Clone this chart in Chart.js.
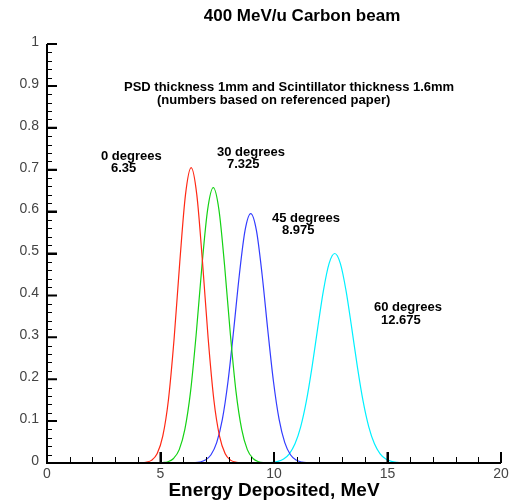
<!DOCTYPE html>
<html>
<head>
<meta charset="utf-8">
<script src="https://cdn.jsdelivr.net/npm/chart.js@4/dist/chart.umd.min.js"></script>
<style>
  html, body { margin: 0; padding: 0; background: #fff; }
  #wrap { width: 519px; height: 503px; }
</style>
</head>
<body>
<div id="wrap"><canvas id="energyChart" width="519" height="503"></canvas></div>
<script>
// 0 degrees (peak 6.35)
const deg0X = [4.10, 4.35, 4.60, 4.85, 5.10, 5.35, 5.60, 5.85, 6.10, 6.35, 6.60, 6.85, 7.10, 7.35, 7.60, 7.85, 8.10, 8.35, 8.60];
const deg0Y = [0.0003, 0.0015, 0.0063, 0.022, 0.064, 0.151, 0.297, 0.480, 0.640, 0.705, 0.640, 0.480, 0.297, 0.151, 0.064, 0.022, 0.0063, 0.0015, 0.0003];

// 30 degrees (peak 7.325)
const deg30X = [5.075, 5.325, 5.575, 5.825, 6.075, 6.325, 6.575, 6.825, 7.075, 7.325, 7.575, 7.825, 8.075, 8.325, 8.575, 8.825, 9.075, 9.325, 9.575, 9.70];
const deg30Y = [0.0007, 0.0030, 0.0107, 0.032, 0.081, 0.171, 0.309, 0.470, 0.604, 0.657, 0.604, 0.470, 0.309, 0.171, 0.081, 0.032, 0.0107, 0.0030, 0.0007, 0.0003];

// 45 degrees (peak 8.975)
const deg45X = [6.35, 6.475, 6.725, 6.975, 7.225, 7.475, 7.725, 7.975, 8.225, 8.475, 8.725, 8.975, 9.225, 9.475, 9.725, 9.975, 10.225, 10.475, 10.725, 10.975, 11.225, 11.475, 11.60];
const deg45Y = [0.0003, 0.0006, 0.0021, 0.0069, 0.0196, 0.0485, 0.104, 0.195, 0.318, 0.450, 0.555, 0.595, 0.555, 0.450, 0.318, 0.195, 0.104, 0.0485, 0.0196, 0.0069, 0.0021, 0.0006, 0.0003];

// 60 degrees (peak 12.675)
const deg60X = [9.675, 9.925, 10.175, 10.425, 10.675, 10.925, 11.175, 11.425, 11.675, 11.925, 12.175, 12.425, 12.675, 12.925, 13.175, 13.425, 13.675, 13.925, 14.175, 14.425, 14.675, 14.925, 15.175, 15.425, 15.675, 15.80];
const deg60Y = [0.0004, 0.0014, 0.0038, 0.0096, 0.022, 0.0457, 0.0862, 0.1475, 0.229, 0.322, 0.411, 0.476, 0.500, 0.476, 0.411, 0.322, 0.229, 0.1475, 0.0862, 0.0457, 0.022, 0.0096, 0.0038, 0.0014, 0.0004, 0.0002];

// 刻度
const xTicks = [0, 5, 10, 15, 20];
const yTicks = [0, 0.1, 0.2, 0.3, 0.4, 0.5, 0.6, 0.7, 0.8, 0.9, 1];
const xMinorStep = 1;
const yMinorStep = 0.02;

const toPoints = (xs, ys) => xs.map((x, i) => ({ x: x, y: ys[i] }));

const FONT = '"Liberation Sans", Arial, sans-serif';

// 坐标轴、刻度和文字
const axesPlugin = {
    id: 'axesPlugin',
    afterDraw(chart) {
        const ctx = chart.ctx;
        const xs = chart.scales.x;
        const ys = chart.scales.y;
        const left = xs.getPixelForValue(0);
        const right = xs.getPixelForValue(20);
        const bottom = ys.getPixelForValue(0);
        const top = ys.getPixelForValue(1);

        ctx.save();
        ctx.strokeStyle = '#000';
        ctx.lineWidth = 2;
        ctx.beginPath();
        ctx.moveTo(left, top);
        ctx.lineTo(left, bottom);
        ctx.lineTo(right, bottom);
        ctx.stroke();

        // minor + major ticks, pointing inwards
        ctx.lineWidth = 1;
        ctx.beginPath();
        for (let v = 0; v <= 20.001; v += xMinorStep) {
            const px = Math.round(xs.getPixelForValue(v)) + 0.5;
            const len = (Math.round(v) % 5 === 0) ? 11 : 6;
            ctx.moveTo(px, bottom);
            ctx.lineTo(px, bottom - len);
        }
        for (let i = 0; i <= 50; i++) {
            const v = i * yMinorStep;
            const py = Math.round(ys.getPixelForValue(v)) + 0.5;
            const len = (i % 5 === 0) ? 10 : 5;
            ctx.moveTo(left, py);
            ctx.lineTo(left + len, py);
        }
        ctx.stroke();
        ctx.lineWidth = 2;
        ctx.beginPath();
        xTicks.forEach(v => {
            const px = xs.getPixelForValue(v);
            ctx.moveTo(px, bottom);
            ctx.lineTo(px, bottom - 11);
        });
        yTicks.forEach(v => {
            const py = ys.getPixelForValue(v);
            ctx.moveTo(left, py);
            ctx.lineTo(left + 10, py);
        });
        ctx.stroke();

        // tick labels
        ctx.fillStyle = '#444';
        ctx.font = '14px ' + FONT;
        ctx.textAlign = 'right';
        ctx.textBaseline = 'middle';
        yTicks.forEach(v => {
            ctx.fillText(String(v), left - 8, ys.getPixelForValue(v) - 2);
        });
        ctx.textAlign = 'center';
        ctx.textBaseline = 'top';
        xTicks.forEach(v => {
            ctx.fillText(String(v), xs.getPixelForValue(v), bottom + 4);
        });

        // titles
        ctx.fillStyle = '#000';
        ctx.font = 'bold 17px ' + FONT;
        ctx.textBaseline = 'middle';
        ctx.fillText('400 MeV/u Carbon beam', 302, 16);
        ctx.font = 'bold 19px ' + FONT;
        ctx.fillText('Energy Deposited, MeV', 274, 491);

        // annotations
        ctx.font = 'bold 13px ' + FONT;
        ctx.textAlign = 'left';
        ctx.fillText('PSD thickness 1mm and Scintillator thickness 1.6mm', 124, 87);
        ctx.fillText('(numbers based on referenced paper)', 157, 100);
        ctx.fillText('0 degrees', 101, 156);
        ctx.fillText('6.35', 111, 168);
        ctx.fillText('30 degrees', 217, 152);
        ctx.fillText('7.325', 227, 164);
        ctx.fillText('45 degrees', 272, 218);
        ctx.fillText('8.975', 282, 230);
        ctx.fillText('60 degrees', 374, 307);
        ctx.fillText('12.675', 381, 320);
        ctx.restore();
    }
};

function lineSet(label, pts, color) {
    return {
        label: label,
        data: pts,
        showLine: true,
        borderColor: color,
        borderWidth: 1.2,
        pointRadius: 0,
        fill: false,
        cubicInterpolationMode: 'monotone'
    };
}

const chart = new Chart(document.getElementById('energyChart'), {
    type: 'scatter',
    data: {
        datasets: [
            lineSet('0 degrees', toPoints(deg0X, deg0Y), 'rgb(255,40,20)'),
            lineSet('30 degrees', toPoints(deg30X, deg30Y), 'rgb(20,210,20)'),
            lineSet('45 degrees', toPoints(deg45X, deg45Y), 'rgb(50,60,255)'),
            lineSet('60 degrees', toPoints(deg60X, deg60Y), 'rgb(0,240,255)')
        ]
    },
    options: {
        responsive: false,
        animation: false,
        layout: { padding: { left: 47, right: 18, top: 44, bottom: 40 } },
        plugins: {
            legend: { display: false },
            tooltip: { enabled: false }
        },
        scales: {
            x: { type: 'linear', min: 0, max: 20, display: false },
            y: { type: 'linear', min: 0, max: 1, display: false }
        }
    },
    plugins: [axesPlugin]
});
</script>
</body>
</html>
